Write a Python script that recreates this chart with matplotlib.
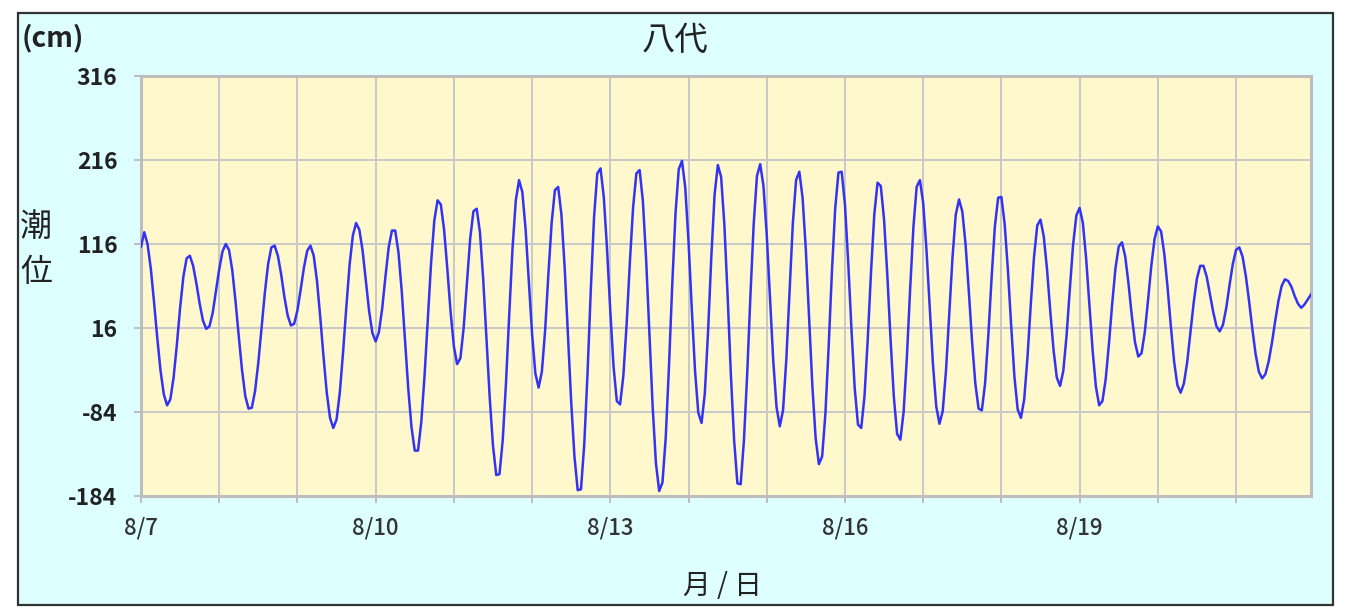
import numpy as np
import matplotlib
matplotlib.use('Agg')
import matplotlib.pyplot as plt
from matplotlib.patches import Rectangle

# hourly tide level (cm), one list per day
aug07 = [113, 130, 116, 87, 47, 4, -35, -63, -76, -69, -43, -4, 40, 77, 99, 102, 90, 69, 45, 25, 15, 18, 34, 60]
aug08 = [86, 107, 116, 109, 85, 48, 6, -34, -65, -80, -79, -59, -25, 17, 58, 92, 112, 114, 102, 80, 53, 31, 19, 21]
aug09 = [37, 62, 88, 108, 114, 102, 72, 29, -18, -61, -91, -103, -93, -61, -13, 41, 91, 126, 141, 133, 108, 72, 36, 10]
aug10 = [0, 11, 39, 77, 112, 132, 132, 106, 60, 2, -56, -102, -130, -130, -96, -41, 26, 93, 144, 168, 163, 133, 86, 35]
aug11 = [-6, -27, -20, 16, 69, 122, 155, 158, 130, 74, 4, -67, -124, -159, -158, -117, -49, 33, 111, 168, 192, 178, 134, 72]
aug12 = [9, -38, -55, -36, 13, 80, 141, 180, 184, 151, 88, 9, -72, -137, -177, -176, -123, -39, 60, 147, 200, 206, 172, 110]
aug13 = [36, -30, -71, -75, -41, 20, 94, 160, 200, 204, 167, 97, 9, -78, -145, -178, -168, -115, -30, 67, 152, 205, 215, 183]
aug14 = [119, 39, -35, -85, -97, -62, 12, 101, 175, 210, 196, 139, 54, -40, -118, -169, -170, -118, -39, 55, 140, 197, 211, 185]
aug15 = [127, 52, -23, -78, -101, -82, -22, 60, 140, 192, 202, 171, 109, 28, -53, -115, -146, -137, -86, -6, 83, 158, 201, 202]
aug16 = [163, 94, 14, -56, -99, -103, -65, 3, 83, 151, 189, 185, 145, 79, 2, -66, -110, -117, -84, -19, 62, 136, 184, 192]
aug17 = [165, 110, 41, -27, -77, -98, -83, -35, 32, 100, 151, 169, 155, 116, 60, 0, -50, -80, -82, -50, 8, 76, 137, 171]
aug18 = [172, 140, 85, 19, -42, -81, -91, -69, -19, 43, 100, 138, 145, 125, 86, 36, -10, -43, -53, -35, 7, 62, 115, 150]
aug19 = [159, 141, 99, 44, -11, -54, -76, -71, -45, -3, 45, 87, 113, 118, 101, 69, 31, -1, -18, -14, 11, 49, 90, 122]
aug20 = [137, 131, 104, 64, 18, -24, -52, -61, -50, -25, 10, 46, 75, 90, 90, 77, 56, 35, 18, 12, 20, 40, 67, 92]
aug21 = [109, 112, 101, 78, 48, 15, -15, -36, -44, -39, -24, -2, 24, 48, 66, 74, 72, 65, 54, 45, 40, 44, 50, 56]

days = ['8/7', '8/8', '8/9', '8/10', '8/11', '8/12', '8/13', '8/14',
        '8/15', '8/16', '8/17', '8/18', '8/19', '8/20', '8/21']
yticks = [-184, -84, 16, 116, 216, 316]

level = aug07 + aug08 + aug09 + aug10 + aug11 + aug12 + aug13 + aug14 + \
    aug15 + aug16 + aug17 + aug18 + aug19 + aug20 + aug21
hours = np.arange(len(level))

plt.rcParams['font.family'] = ['Noto Sans CJK JP', 'DejaVu Sans']

fig = plt.figure(figsize=(13.46, 6.15), dpi=100)
fig.patch.set_facecolor('white')
# light cyan panel with dark frame
fig.patches.append(Rectangle((18/1346, 10/615), 1315/1346, 592/615,
                             transform=fig.transFigure, facecolor='#DDFFFF',
                             edgecolor='#333333', linewidth=1.6, zorder=-10))

ax = fig.add_axes([141/1346, 119/615, 1170/1346, 420/615])
ax.set_zorder(5)
ax.set_facecolor('#FFF8CC')

ax.plot(hours, level, color='#3333F5', linewidth=1.8, zorder=3,
        solid_joinstyle='round')

ax.set_xlim(0, len(level) - 1)
ax.set_ylim(yticks[0], yticks[-1])
ax.set_yticks(yticks)
ax.set_yticklabels([str(v) for v in yticks], fontsize=16.5, fontweight='bold', color='#222222')

ax.set_xticks(np.arange(0, len(level), 24))
ax.set_xticklabels([d if i % 3 == 0 else '' for i, d in enumerate(days)],
                   fontsize=16, fontweight='medium', color='#333333')

ax.grid(True, color='#C8C8C8', linewidth=1.4, zorder=1)
ax.set_axisbelow(True)
for sp in ax.spines.values():
    sp.set_color('#BDBDBD')
    sp.set_linewidth(2.2)
ax.tick_params(axis='both', color='#BDBDBD', width=1.4, length=5)
ax.tick_params(axis='y', pad=12)
ax.tick_params(axis='x', pad=10)

fig.text(22/1346, 1 - 38/615, '(cm)', fontsize=20, fontweight='bold',
         color='#222222', ha='left', va='center')
fig.text(675/1346, 1 - 40/615, '八代', fontsize=24, color='#222222',
         ha='center', va='center')
fig.text(36/1346, 1 - 227/615, '潮', fontsize=23, color='#222222',
         ha='center', va='center')
fig.text(36/1346, 1 - 272/615, '位', fontsize=23, color='#222222',
         ha='center', va='center')
fig.text(722/1346, 1 - 586/615, '月 / 日', fontsize=20, color='#222222',
         ha='center', va='center')

plt.savefig('out.png', dpi=100, facecolor=fig.get_facecolor())
